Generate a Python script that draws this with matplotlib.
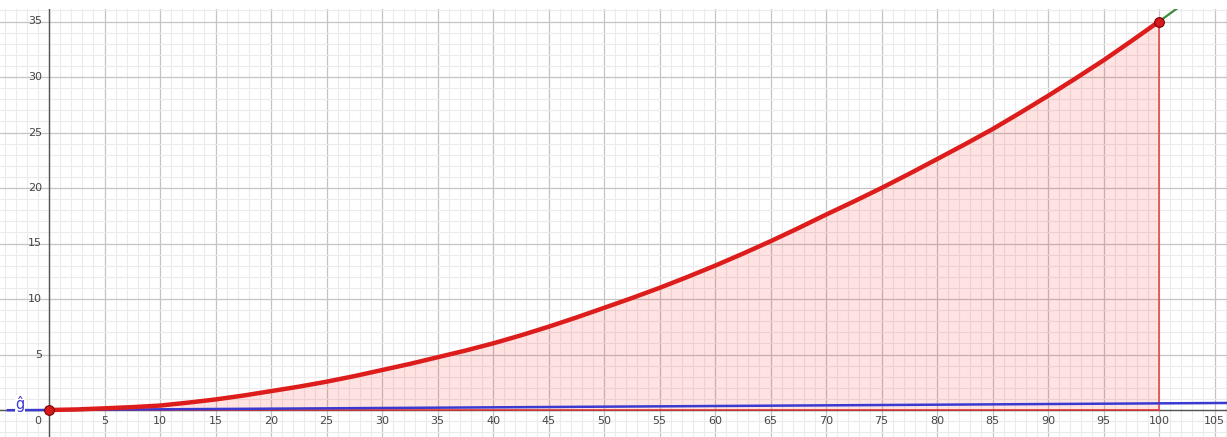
import numpy as np
import matplotlib
matplotlib.use("Agg")
import matplotlib.pyplot as plt

# ── Data ──────────────────────────────────────────────────────────────────────
X_VALS = [0, 2.5, 5, 7.5, 10, 12.5, 15, 17.5, 20, 22.5, 25, 27.5, 30,
          32.5, 35, 37.5, 40, 42.5, 45, 47.5, 50, 52.5, 55, 57.5, 60,
          62.5, 65, 67.5, 70, 72.5, 75, 77.5, 80, 82.5, 85, 87.5, 90,
          92.5, 95, 97.5, 100]
F_VALS = [0.0, 0.05, 0.15, 0.26, 0.4, 0.66, 0.95, 1.3, 1.7, 2.1, 2.55,
          3.05, 3.6, 4.15, 4.75, 5.35, 6.0, 6.72, 7.5, 8.33, 9.2, 10.08,
          11.0, 11.98, 13.0, 14.08, 15.2, 16.38, 17.6, 18.78, 20.0, 21.28,
          22.6, 23.93, 25.3, 26.78, 28.3, 29.88, 31.5, 33.23, 35.0]

# green continuation of the curve past x = 100
F_EXT_X = [100, 101, 102, 103]
F_EXT_Y = [35.0, 35.72, 36.45, 37.2]

# blue line g
G_X = [-3.7, 107]
G_Y = [-0.02, 0.64]

# endpoints
PTS_X = [0, 100]
PTS_Y = [0.0, 35.0]

X_TICKS = list(range(0, 110, 5))
Y_TICKS = list(range(5, 40, 5))

# ── Config ────────────────────────────────────────────────────────────────────
W, H, DPI = 1227, 437, 100
PX = 11.1                 # pixels per unit (same on both axes)
ORIGIN = (49, 410)        # pixel position of (0, 0)
TOP_PX = 9                # white strip above the graphics view

fig = plt.figure(figsize=(W / DPI, H / DPI), dpi=DPI)
ax = fig.add_axes([0, 0, 1, (H - TOP_PX) / H])

ax.set_xlim(-ORIGIN[0] / PX, (W - ORIGIN[0]) / PX)
ax.set_ylim((ORIGIN[1] - H) / PX, (ORIGIN[1] - TOP_PX) / PX)
ax.set_axis_off()

# grid: minor every unit, major every 5
xmin, xmax = ax.get_xlim()
ymin, ymax = ax.get_ylim()
for v in range(int(np.floor(xmin)), int(np.ceil(xmax)) + 1):
    major = v % 5 == 0
    ax.axvline(v, color="#c4c4c4" if major else "#ebebeb",
               lw=0.9 if major else 0.8, zorder=0)
for v in range(int(np.floor(ymin)), int(np.ceil(ymax)) + 1):
    major = v % 5 == 0
    ax.axhline(v, color="#c4c4c4" if major else "#ebebeb",
               lw=0.9 if major else 0.8, zorder=0)

# axes
ax.axhline(0, color="#555555", lw=1.0, zorder=1)
ax.axvline(0, color="#555555", lw=1.0, zorder=1)

# tick labels
for t in X_TICKS:
    dx = -8 if t == 0 else 0
    ax.annotate(str(t), (t, 0), xytext=(dx, -8), textcoords="offset points",
                ha="center", va="center", fontsize=8, color="#444444",
                zorder=2)
for t in Y_TICKS:
    ax.annotate(str(t), (0, t), xytext=(-5, 0), textcoords="offset points",
                ha="right", va="center", fontsize=8, color="#444444",
                zorder=2)

# shaded area under f
ax.fill_between(X_VALS, 0, F_VALS, color="#ff0000", alpha=0.11,
                lw=0, zorder=3)
ax.plot([0, 100], [0, 0], color="#e03030", lw=1.1, zorder=4)
ax.plot([100, 100], [0, 35], color="#e04040", lw=1.1, zorder=4)

# line g
ax.plot(G_X, G_Y, color="#3a3ad0", lw=1.8, zorder=5)
ax.text(-2.6, 0.55, "ĝ", color="#3a3ad0", fontsize=10.5,
        ha="center", va="center", zorder=6,
        bbox=dict(boxstyle="square,pad=0.05", fc="white", ec="none"))

# curve f
ax.plot(F_EXT_X, F_EXT_Y, color="#3c8c3c", lw=1.6, zorder=6,
        solid_capstyle="butt")
ax.plot(X_VALS, F_VALS, color="#dd1c1c", lw=3.2, zorder=7,
        solid_capstyle="butt", solid_joinstyle="round")

# endpoints
ax.plot(PTS_X, PTS_Y, "o", ms=7, mfc="#d41a1a", mec="#7a0000",
        mew=0.8, zorder=8, clip_on=False)

fig.savefig("out.png", dpi=DPI, facecolor="white")
